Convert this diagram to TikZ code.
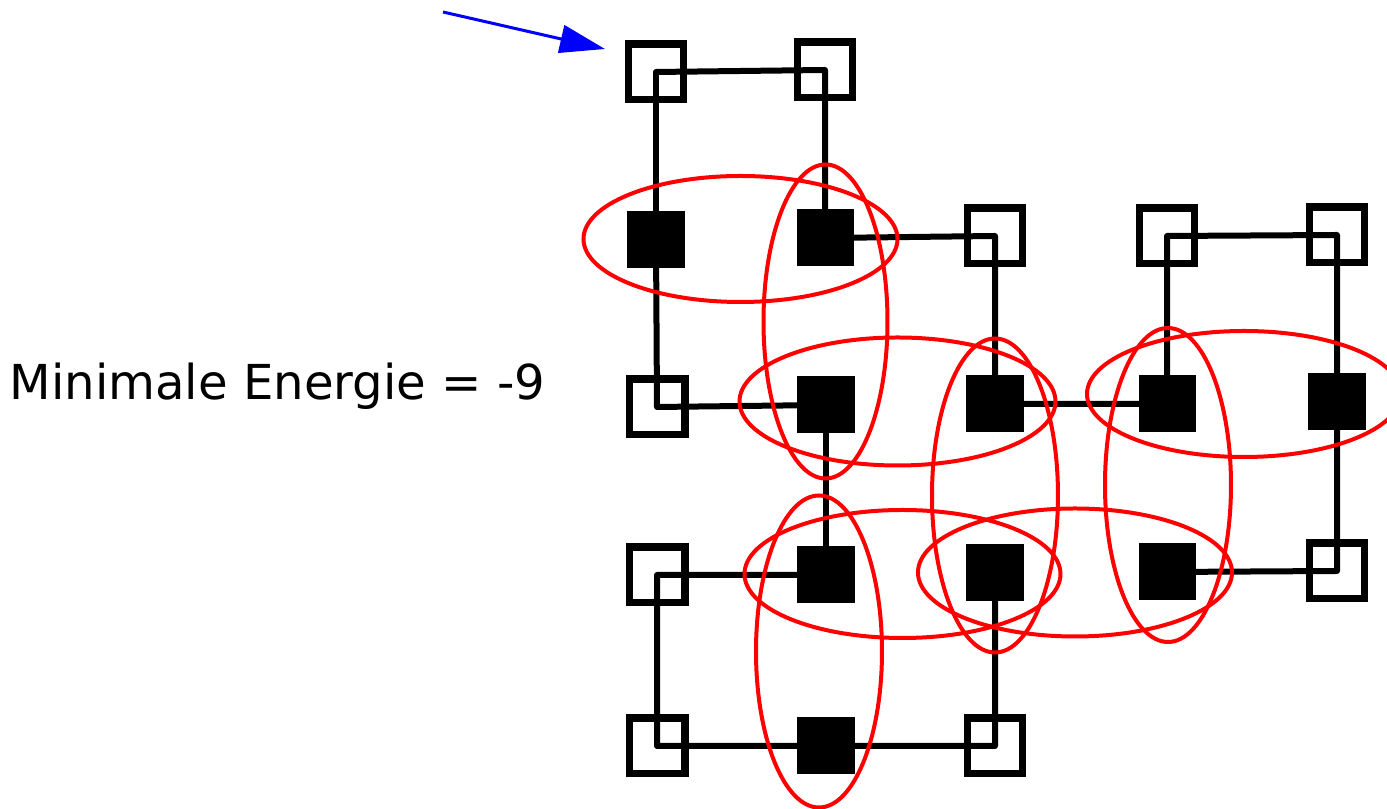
\documentclass[tikz,border=0pt]{standalone}
\usepackage{fontspec}
\setmainfont{DejaVu Sans}
\usetikzlibrary{arrows.meta}
\usetikzlibrary{calc}
\usetikzlibrary{backgrounds}

\begin{document}
\begin{tikzpicture}[
    hsite/.style={rectangle, fill=black, minimum size=0.57cm, inner sep=0pt},
    psite/.style={rectangle, draw=black, line width=0.075cm, minimum size=0.555cm, inner sep=0pt},
    bond/.style={black, line width=0.06cm, line join=round},
    contact/.style={red, line width=0.04cm},
    pointer/.style={blue, line width=0.03cm, -{Triangle[length=0.45cm,width=0.28cm]}}
]
    \useasboundingbox (0,0) rectangle (13.87,-8.09);

    % 格点, 按链的顺序
    \node[hsite] (p1)  at (9.95,-5.73) {};
    \node[psite] (p2)  at (9.95,-7.46) {};
    \node[hsite] (p3)  at (8.26,-7.46) {};
    \node[psite] (p4)  at (6.57,-7.46) {};
    \node[psite] (p5)  at (6.57,-5.75) {};
    \node[hsite] (p6)  at (8.26,-5.75) {};
    \node[hsite] (p7)  at (8.26,-4.05) {};
    \node[psite] (p8)  at (6.57,-4.07) {};
    \node[hsite] (p9)  at (6.56,-2.40) {};
    \node[psite] (p10) at (6.56,-0.72) {};
    \node[psite] (p11) at (8.25,-0.70) {};
    \node[hsite] (p12) at (8.25,-2.38) {};
    \node[psite] (p13) at (9.95,-2.36) {};
    \node[hsite] (p14) at (9.95,-4.04) {};
    \node[hsite] (p15) at (11.67,-4.04) {};
    \node[psite] (p16) at (11.67,-2.36) {};
    \node[psite] (p17) at (13.37,-2.35) {};
    \node[hsite] (p18) at (13.37,-4.02) {};
    \node[psite] (p19) at (13.37,-5.71) {};
    \node[hsite] (p20) at (11.67,-5.72) {};

    % 链
    \begin{scope}[on background layer]
    \draw[bond] (p1.center) -- (p2.center) -- (p3.center) -- (p4.center) -- (p5.center)
        -- (p6.center) -- (p7.center) -- (p8.center) -- (p9.center) -- (p10.center)
        -- (p11.center) -- (p12.center) -- (p13.center) -- (p14.center) -- (p15.center)
        -- (p16.center) -- (p17.center) -- (p18.center) -- (p19.center) -- (p20.center);
    \end{scope}

    % H-H 接触
    \draw[contact] ($(p9)!0.5!(p12)$) ellipse (1.57 and 0.63);
    \draw[contact] ($(p12)!0.5!(p7)$) ellipse (0.62 and 1.57);
    \draw[contact] ($(p7)!0.5!(p14)+(-0.13,0.03)$) ellipse (1.58 and 0.64);
    \draw[contact] ($(p14)!0.5!(p1)+(0,-0.07)$) ellipse (0.63 and 1.57);
    \draw[contact] ($(p15)!0.5!(p18)+(-0.08,0.09)$) ellipse (1.57 and 0.63);
    \draw[contact] ($(p15)!0.5!(p20)+(0.01,0.03)$) ellipse (0.63 and 1.57);
    \draw[contact] ($(p6)!0.5!(p1)+(-0.08,0)$) ellipse (1.58 and 0.64);
    \draw[contact] ($(p1)!0.5!(p20)+(-0.06,0)$) ellipse (1.57 and 0.64);
    \draw[contact] ($(p6)!0.5!(p3)+(-0.07,0.09)$) ellipse (0.63 and 1.56);

    % 箭头
    \coordinate (tail) at (4.43,-0.12);
    \coordinate (head) at (6.05,-0.49);
    \draw[pointer] (tail) -- (head);

    \node[anchor=base west, inner sep=0pt, font=\fontsize{13.7}{16}\selectfont] (energy) at (0.09,-4.00) {Minimale Energie = -9};

\end{tikzpicture}
\end{document}
